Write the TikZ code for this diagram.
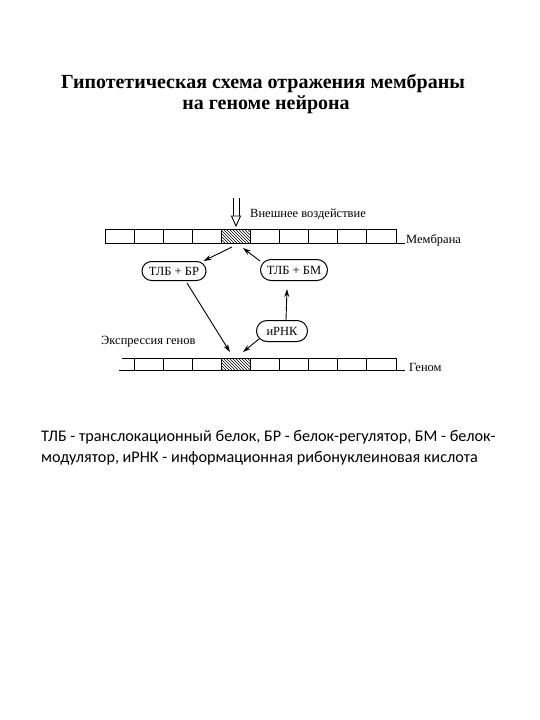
\documentclass[tikz,border=0pt]{standalone}
\usepackage{fontspec}
\setmainfont{Liberation Serif}
\newfontfamily\capfont{Carlito}
\usetikzlibrary{arrows.meta,patterns}
\tikzset{
  cell/.style={draw, line width=1pt, minimum width=29.1pt, inner sep=0pt, outer sep=0pt},
  memcell/.style={cell, minimum height=14pt},
  gencell/.style={cell, minimum height=12pt},
  hatch/.style={pattern=north west lines},
  pill/.style={draw, line width=1pt, rounded corners=9.5pt, inner sep=0pt, font=\fontsize{12.5}{14}\selectfont},
  lab/.style={inner sep=0pt, font=\fontsize{12.5}{14}\selectfont},
  arr/.style={line width=0.9pt, -{Stealth[length=8pt,width=5pt]}},
  ttl/.style={inner sep=0pt, font=\fontsize{20}{24}\selectfont\bfseries},
  captext/.style={inner sep=0pt, anchor=west, font=\capfont\fontsize{16.2}{19}\selectfont},
}
\begin{document}
\begin{tikzpicture}[x=1pt,y=-1pt]
\useasboundingbox[fill=white] (0,0) rectangle (540,720);
% title
\node[ttl] (t1) at (263,83) {Гипотетическая схема отражения мембраны};
\node[ttl] (t2) at (266,105) {на геноме нейрона};
% membrane
\foreach \i in {1,...,10}{
  \ifnum\i=5
    \node[memcell, hatch] (m\i) at ({105+29.1*(\i-0.5)},236) {};
  \else
    \node[memcell] (m\i) at ({105+29.1*(\i-0.5)},236) {};
  \fi
}
\draw[line width=1pt] (m10.south east) -- ++(9,0);
% genome
\foreach \i in {2,...,10}{
  \ifnum\i=5
    \node[gencell, hatch] (g\i) at ({105+29.1*(\i-0.5)},364) {};
  \else
    \node[gencell] (g\i) at ({105+29.1*(\i-0.5)},364) {};
  \fi
}
\draw[line width=1pt] (g2.north west) -- ++(-12,0);
\draw[line width=1pt] (g2.south west) -- ++(-15,0);
\draw[line width=1pt] (g10.south east) -- ++(9,0);
% external action arrow
\coordinate (ea) at (236,198);
\draw[line width=0.9pt] ([xshift=-3pt]ea) -- ++(0,18) ([xshift=3pt]ea) -- ++(0,18);
\draw[line width=0.9pt, fill=white] ([shift={(-4.5,18)}]ea) -- ++(9,0) -- ([shift={(0,28)}]ea) -- cycle;
% labels
\node[lab, anchor=west] (ext) at (250,214) {Внешнее воздействие};
\node[lab, anchor=west] (meml) at (406,240) {Мембрана};
\node[lab, anchor=west] (genl) at (409,367) {Геном};
\node[lab, anchor=west] (expr) at (101,342) {Экспрессия генов};
% nodes
\node[pill, minimum width=64pt, minimum height=19pt] (tbr) at (174,271) {ТЛБ + БР};
\node[pill, minimum width=67pt, minimum height=21pt, rounded corners=10.5pt] (tbm) at (294,270) {ТЛБ + БМ};
\node[pill, minimum width=51pt, minimum height=21pt, rounded corners=10.5pt] (irnk) at (282,331) {иРНК};
% arrows
\draw[arr] ([shift={(-4,4)}]m5.south) -- ([shift={(-3,0)}]tbr.north east);
\draw[arr] ([shift={(0,2)}]tbm.north west) -- ([shift={(7,5)}]m5.south);
\draw[arr] ([shift={(13,2)}]tbr.south) -- ([shift={(-6,-6)}]g5.north);
\draw[arr] ([shift={(3,-3)}]irnk.south west) -- ([shift={(7,-6)}]g5.north);
\draw[arr] ([xshift=4pt]irnk.north) -- ([shift={(-7,8)}]tbm.south);
% caption
\node[captext] (c1) at (41,437) {ТЛБ - транслокационный белок, БР - белок-регулятор, БМ - белок-};
\node[captext] (c2) at (41,458) {модулятор, иРНК - информационная рибонуклеиновая кислота};
\end{tikzpicture}
\end{document}
